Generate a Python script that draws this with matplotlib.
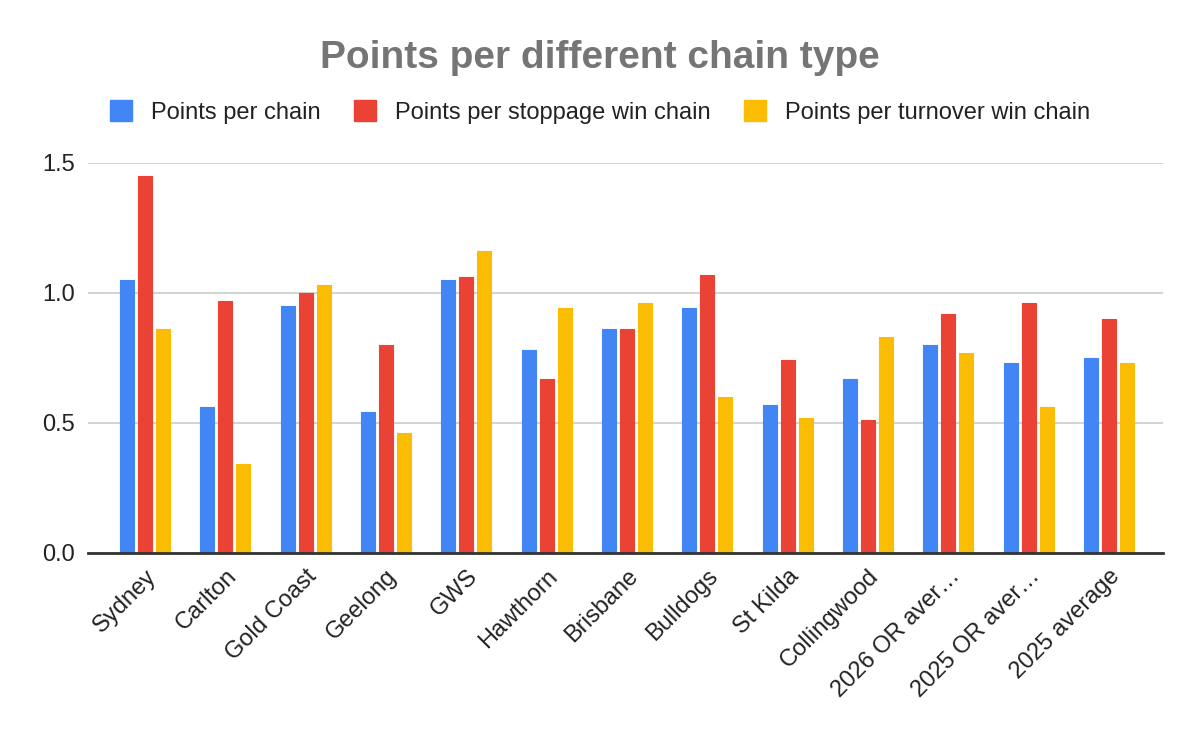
import matplotlib
matplotlib.use("Agg")
import matplotlib.pyplot as plt
import numpy as np
from matplotlib.patches import Patch

categories = ["Sydney", "Carlton", "Gold Coast", "Geelong", "GWS", "Hawthorn",
              "Brisbane", "Bulldogs", "St Kilda", "Collingwood",
              "2026 OR aver…", "2025 OR aver…", "2025 average"]
points_per_chain = [1.05, 0.56, 0.95, 0.54, 1.05, 0.78, 0.86, 0.94, 0.57, 0.67, 0.80, 0.73, 0.75]
points_per_stoppage = [1.45, 0.97, 1.00, 0.80, 1.06, 0.67, 0.86, 1.07, 0.74, 0.51, 0.92, 0.96, 0.90]
points_per_turnover = [0.86, 0.34, 1.03, 0.46, 1.16, 0.94, 0.96, 0.60, 0.52, 0.83, 0.77, 0.56, 0.73]
series_names = ["Points per chain", "Points per stoppage win chain", "Points per turnover win chain"]
colors = ["#4285F4", "#EA4335", "#FBBC04"]
yticks = [0.0, 0.5, 1.0, 1.5]

plt.rcParams['font.family'] = ['Liberation Sans', 'DejaVu Sans']

fig = plt.figure(figsize=(12, 7.42), dpi=100)
ax = fig.add_axes([0.0733, 0.2551, 0.969 - 0.0733, 0.7807 - 0.2551])

x = np.arange(len(categories))
w = 0.174
step = 0.224
for k, (vals, c, name) in enumerate(zip([points_per_chain, points_per_stoppage, points_per_turnover], colors, series_names)):
    ax.bar(x + (k - 1) * step, vals, width=w, color=c, label=name, zorder=3,
           edgecolor=c, linewidth=0.8, joinstyle='round')

ax.set_xlim(-0.71, 12.67)
ax.set_ylim(0, 1.5)
ax.set_yticks(yticks)
ax.set_yticklabels([f"{v:.1f}" for v in yticks], fontsize=17, color="#222222")
ax.set_xticks(x)
ax.set_xticklabels(categories, rotation=45, ha='right', rotation_mode='anchor',
                   fontsize=17, color="#222222")
ax.tick_params(axis='both', length=0)
ax.tick_params(axis='y', pad=9.5)
ax.tick_params(axis='x', pad=9)
ax.grid(axis='y', color="#cccccc", linewidth=1.2, zorder=0)
for s in ['top', 'right', 'left']:
    ax.spines[s].set_visible(False)
ax.spines['bottom'].set_color("#333333")
ax.spines['bottom'].set_linewidth(2)
ax.spines['bottom'].set_zorder(4)

fig.text(0.5, 0.922, "Points per different chain type", ha='center', va='center',
         fontsize=28, fontweight='bold', color="#757575")

handles = [Patch(facecolor=c, edgecolor=c, label=n) for c, n in zip(colors, series_names)]
fig.legend(handles=handles, loc='center', bbox_to_anchor=(0.5, 0.849), ncol=3,
           frameon=False, fontsize=17, handlelength=0.95, handleheight=0.95,
           handletextpad=0.8, columnspacing=1.4, labelcolor="#222222")

fig.savefig("out.png", dpi=100)
